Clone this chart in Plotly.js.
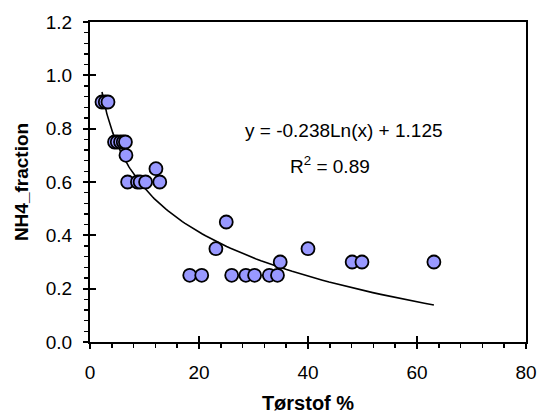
<!DOCTYPE html>
<html>
<head>
<meta charset="utf-8">
<script src="https://cdn.plot.ly/plotly-3.0.1.min.js"></script>
<style>html,body{margin:0;padding:0;background:#fff}#chart{width:539px;height:419px}</style>
</head>
<body>
<div id="chart"></div>
<script>
// Data
const torstof = [2.2, 2.8, 3.3, 4.5, 5.0, 5.6, 6.1, 6.5, 6.6, 6.9, 8.7, 9.2, 10.2, 12.1, 12.8,
                 18.3, 20.5, 23.1, 25.0, 26.0, 28.6, 30.2, 32.9, 34.4, 34.9, 40.0, 48.1, 49.9, 63.1];
const nh4Fraction = [0.90, 0.90, 0.90, 0.75, 0.75, 0.75, 0.75, 0.75, 0.70, 0.60, 0.60, 0.60, 0.60, 0.65, 0.60,
                     0.25, 0.25, 0.35, 0.45, 0.25, 0.25, 0.25, 0.25, 0.25, 0.30, 0.35, 0.30, 0.30, 0.30];
// Logarithmic trendline coefficients shown on the chart
const trendSlope = -0.238;
const trendIntercept = 1.125;
const trendLabel = "y = -0.238Ln(x) + 1.125";
const r2Label = "R<sup>2</sup> = 0.89";
const xRange = [0, 80], xMajor = 20, xMinor = 4;
const yRange = [0, 1.2], yMajor = 0.2, yMinor = 0.04;

const xMin = Math.min(...torstof), xMax = Math.max(...torstof);
const trendX = [], trendY = [];
for (let i = 0; i <= 120; i++) {
  const x = xMin * Math.pow(xMax / xMin, i / 120);
  trendX.push(x);
  trendY.push(trendSlope * Math.log(x) + trendIntercept);
}

const font = {family: "Liberation Sans, Arial, sans-serif", size: 19, color: "#000"};

const traces = [
  {x: trendX, y: trendY, mode: "lines", line: {color: "#000", width: 1.6}, hoverinfo: "skip"},
  {x: torstof, y: nh4Fraction, mode: "markers",
   marker: {size: 13, color: "#9999FF", line: {color: "#000", width: 1.8}}},
  {x: [0], y: [0], xaxis: "x2", yaxis: "y2", mode: "markers", marker: {opacity: 0}, hoverinfo: "skip"},
  {x: [0], y: [0], xaxis: "x3", yaxis: "y3", mode: "markers", marker: {opacity: 0}, hoverinfo: "skip"}
];

function tickAxis(over, range, dtick, side, len, width, anchor) {
  return {overlaying: over, range: range, dtick: dtick, ticks: side, ticklen: len, tickwidth: width, tickcolor: "#000",
    showticklabels: false, showgrid: false, zeroline: false, anchor: anchor};
}

const layout = {
  width: 539, height: 419, showlegend: false,
  margin: {l: 90, r: 13, t: 22, b: 77},
  paper_bgcolor: "#fff", plot_bgcolor: "#fff",
  xaxis: {range: xRange, dtick: xMajor, ticks: "outside", ticklen: 12, tickcolor: "rgba(0,0,0,0)",
    showline: true, linecolor: "#000", linewidth: 2, mirror: true, showgrid: false, zeroline: false, tickfont: font,
    title: {text: "<b>Tørstof %</b>", font: Object.assign({}, font, {size: 20}), standoff: 14}},
  yaxis: {range: yRange, dtick: yMajor, tickformat: ".1f", ticks: "outside", ticklen: 12, tickcolor: "rgba(0,0,0,0)",
    showline: true, linecolor: "#000", linewidth: 2, mirror: true, showgrid: false, zeroline: false, tickfont: font,
    title: {text: "<b>NH4_fraction</b>", font: Object.assign({}, font, {size: 19}), standoff: 12}},
  xaxis2: tickAxis("x", xRange, xMajor, "inside", 6, 2, "y"),
  yaxis2: tickAxis("y", yRange, yMajor, "inside", 6, 2, "x"),
  xaxis3: Object.assign(tickAxis("x", xRange, xMinor, "outside", 5, 1.6, "y"), {}),
  yaxis3: Object.assign(tickAxis("y", yRange, yMinor, "outside", 5, 1.6, "x"), {}),
  annotations: [
    {xref: "paper", yref: "paper", x: 0.583, y: 0.66, text: trendLabel, showarrow: false, font: font, xanchor: "center", yanchor: "middle"},
    {xref: "paper", yref: "paper", x: 0.55, y: 0.553, text: r2Label, showarrow: false, font: font, xanchor: "center", yanchor: "middle"}
  ]
};
// major outside ticks drawn by a fourth overlay pair
layout.xaxis4 = tickAxis("x", xRange, xMajor, "outside", 6, 2, "y");
layout.yaxis4 = tickAxis("y", yRange, yMajor, "outside", 6, 2, "x");
traces.push({x: [0], y: [0], xaxis: "x4", yaxis: "y4", mode: "markers", marker: {opacity: 0}, hoverinfo: "skip"});

Plotly.newPlot("chart", traces, layout, {displayModeBar: false, staticPlot: true});
</script>
</body>
</html>
